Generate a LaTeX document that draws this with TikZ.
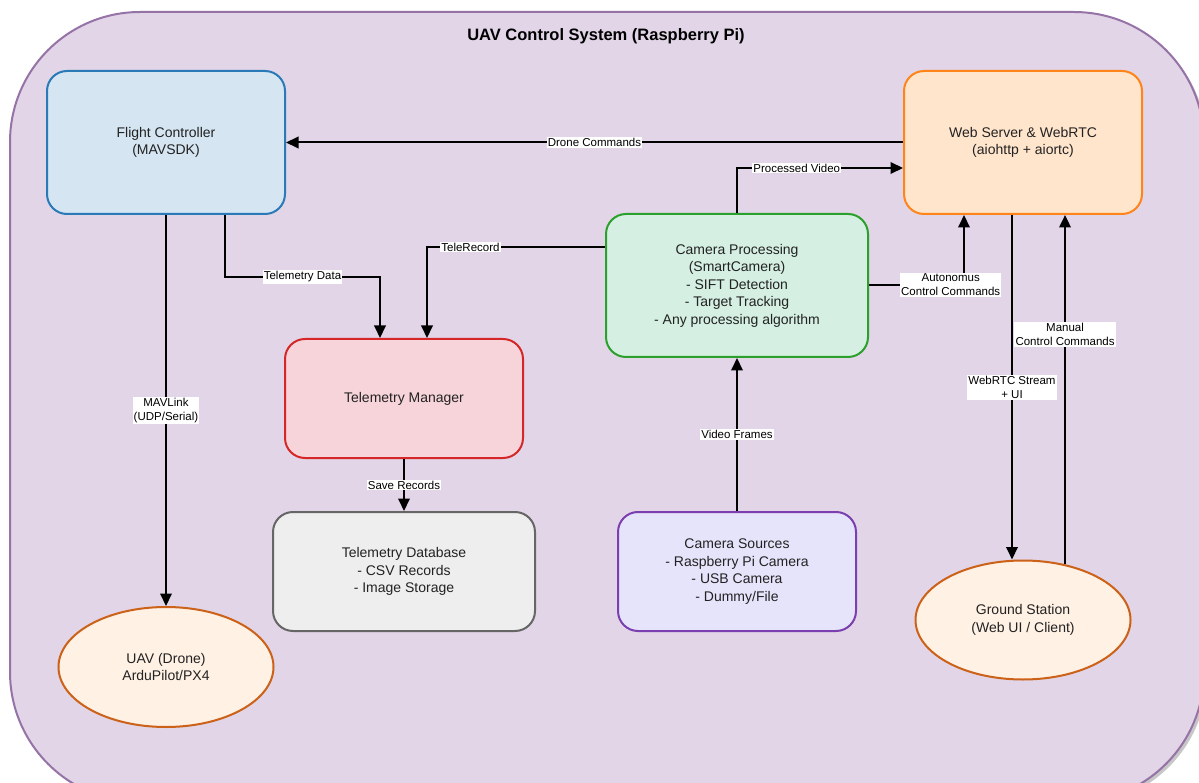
\documentclass[tikz,border=0pt]{standalone}
\usepackage{fontspec}
\setmainfont{Liberation Sans}
\usetikzlibrary{arrows.meta,shapes.geometric,calc}
\definecolor{sysf}{HTML}{E1D5E7}
\definecolor{sysb}{HTML}{9673A6}
\definecolor{fcf}{HTML}{D5E5F2}
\definecolor{fcb}{HTML}{2A7AB8}
\definecolor{wsf}{HTML}{FFE5CC}
\definecolor{wsb}{HTML}{FF8419}
\definecolor{cpf}{HTML}{D5F0E2}
\definecolor{cpb}{HTML}{2CA02C}
\definecolor{tmf}{HTML}{F7D4DA}
\definecolor{tmb}{HTML}{D62728}
\definecolor{tdf}{HTML}{EEEEEE}
\definecolor{tdb}{HTML}{666666}
\definecolor{csf}{HTML}{E6E4FA}
\definecolor{csb}{HTML}{7B3FB0}
\definecolor{ovf}{HTML}{FFF1E4}
\definecolor{ovb}{HTML}{CC6118}
\definecolor{textc}{HTML}{222222}
\begin{document}
\begin{tikzpicture}[x=1pt,y=-1pt,
  box/.style={rectangle, rounded corners=20pt, line width=2pt, align=center,
    font=\fontsize{14}{17.5}\selectfont, text=textc, inner sep=0pt},
  oval/.style={ellipse, line width=2pt, inner sep=0pt, align=center,
    font=\fontsize{14}{17.5}\selectfont, text=textc, draw=ovb, fill=ovf,
    minimum width=215pt, minimum height=120pt},
  arr/.style={line width=2pt, -{Triangle[length=12.5pt,width=11.5pt]}},
  lab/.style={fill=white, inner sep=1.2pt, font=\fontsize{11.5}{14}\selectfont,
    align=center, text=black}]
\useasboundingbox (0,0) rectangle (1199,783);
\clip (0,0) rectangle (1199,783);
% container
\fill[black!22, rounded corners=130pt] (13,15) rectangle (1207,805);
\node[draw=sysb, fill=sysf, line width=2pt, rounded corners=130pt,
  minimum width=1194pt, minimum height=790pt, inner sep=0pt] (sys) at (607,407) {};
\node[font=\bfseries\fontsize{16.5}{20}\selectfont, text=black] (title) at (606,36) {UAV Control System (Raspberry Pi)};
% nodes
\node[box, draw=fcb, fill=fcf, minimum width=238pt, minimum height=143pt] (fc) at (166,142.5) {Flight Controller\\(MAVSDK)};
\node[box, draw=wsb, fill=wsf, minimum width=238pt, minimum height=143pt] (ws) at (1023,142.5) {Web Server \& WebRTC\\(aiohttp + aiortc)};
\node[box, draw=cpb, fill=cpf, minimum width=262pt, minimum height=143pt] (cp) at (737,285.5) {Camera Processing\\(SmartCamera)\\- SIFT Detection\\- Target Tracking\\- Any processing algorithm};
\node[box, draw=tmb, fill=tmf, minimum width=238pt, minimum height=119pt] (tm) at (404,398.5) {Telemetry Manager};
\node[box, draw=tdb, fill=tdf, minimum width=262pt, minimum height=119pt] (td) at (404,571.5) {Telemetry Database\\- CSV Records\\- Image Storage};
\node[box, draw=csb, fill=csf, minimum width=238pt, minimum height=119pt] (cs) at (737,571.5) {Camera Sources\\- Raspberry Pi Camera\\- USB Camera\\- Dummy/File};
\node[oval] (uav) at (166,667) {UAV (Drone)\\ArduPilot/PX4};
\node[oval, minimum height=119pt] (gs) at (1023,620) {Ground Station\\(Web UI / Client)};
% helper coordinates
\coordinate (y168) at (0,168);
\coordinate (y247) at (0,247);
\coordinate (y277) at (0,277);
\coordinate (y285) at (0,285);
\coordinate (x225) at (225,0);
\coordinate (x380) at (380,0);
\coordinate (x427) at (427,0);
\coordinate (x964) at (964,0);
\coordinate (x1012) at (1012,0);
% connectors
\draw[arr] (ws.west) -- node[lab]{Drone Commands} (fc.east);
\draw[arr] (cp.north) |- node[lab,pos=0.68]{Processed Video} (ws.west |- y168);
\draw[arr] (cp.west |- y247) -| node[lab,pos=0.378]{TeleRecord} (tm.north -| x427);
\draw[arr] (fc.south -| x225) -- (x225 |- y277) -- node[lab]{Telemetry Data} (x380 |- y277) -- (tm.north -| x380);
\draw[arr] (fc.south) -- node[lab]{MAVLink\\(UDP/Serial)} (uav.north);
\draw[arr] (tm.south) -- node[lab]{Save Records} (td.north);
\draw[arr] (cs.north) -- node[lab]{Video Frames} (cp.south);
\draw[arr] (cp.east |- y285) -| node[lab,pos=0.43]{Autonomus\\Control Commands} (ws.south -| x964);
\draw[arr] (ws.south -| x1012) -- node[lab]{WebRTC Stream\\+ UI} (gs.north -| x1012);
\draw[arr] (gs.53.3) -- node[lab,pos=0.658]{Manual\\Control Commands} (ws.south -| gs.53.3);
\end{tikzpicture}
\end{document}
